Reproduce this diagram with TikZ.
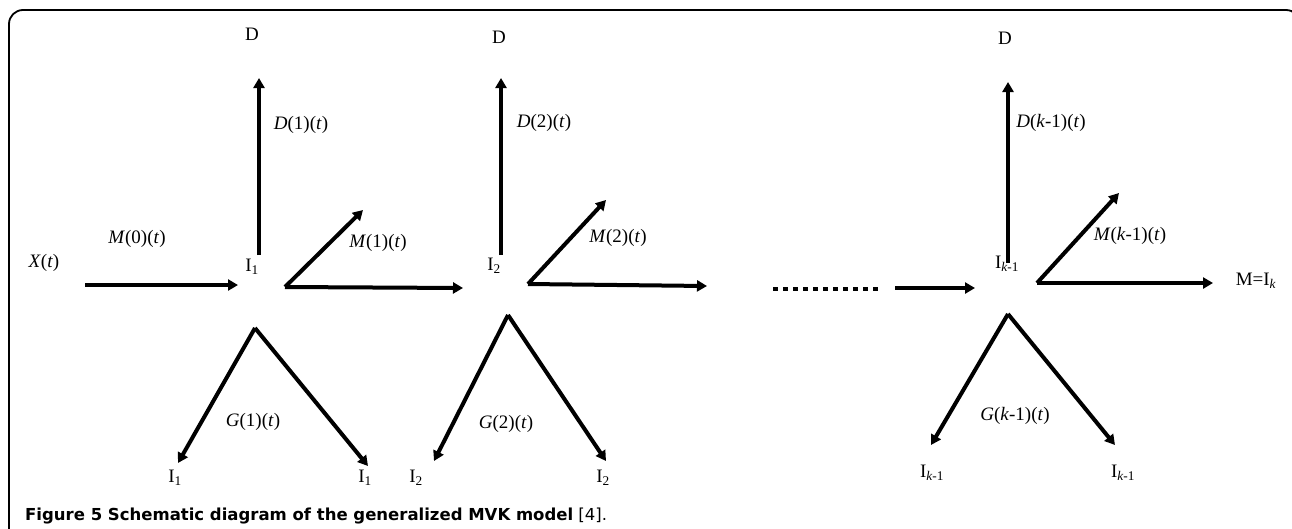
\documentclass[tikz,border=0pt]{standalone}
\usepackage{fontspec}
\setmainfont{Liberation Serif}
\newfontfamily\capfont{DejaVu Sans}
\usetikzlibrary{arrows.meta}
\tikzset{
  flow/.style={line width=4pt, -{Triangle[length=10pt,width=11pt]}},
  lbl/.style={font=\fontsize{19}{21}\selectfont, inner sep=0pt},
  frame/.style={line width=1.8pt, rounded corners=14pt},
}
\begin{document}
\begin{tikzpicture}[x=1pt,y=-1pt]
\useasboundingbox (0,0) rectangle (1292,528);
% page frame, open at the bottom
\draw[frame] (9,540) -- (9,10) -- (1300,10) -- (1300,540);

% ---- compartment 1 ----
\coordinate (x0)  at (85,285);
\coordinate (in1) at (238,285);
\coordinate (v1)  at (259,255);
\coordinate (d1)  at (259,78);
\coordinate (o1)  at (285,287);
\coordinate (m1)  at (363,210);
\coordinate (in2) at (463,288);
\coordinate (a1)  at (255,328);
\coordinate (gl1) at (178,463);
\coordinate (gr1) at (368,466);

\node[lbl] (Xt)  at (44,263)  {\textit{X}(\textit{t})};
\node[lbl] (M0)  at (137,239) {\textit{M}(0)(\textit{t})};
\node[lbl] (Dtop1) at (252,34) {D};
\node[lbl] (D1)  at (301,125) {\textit{D}(1)(\textit{t})};
\node[lbl] (I1)  at (252,267) {I\textsubscript{1}};
\node[lbl] (M1)  at (378,243) {\textit{M}(1)(\textit{t})};
\node[lbl] (G1)  at (253,422) {\textit{G}(1)(\textit{t})};
\node[lbl] (I1l) at (175,478) {I\textsubscript{1}};
\node[lbl] (I1r) at (365,478) {I\textsubscript{1}};

\draw[flow] (x0) -- (in1);
\draw[flow] (v1) -- (d1);
\draw[flow] (o1) -- (m1);
\draw[flow] (o1) -- (in2);
\draw[flow] (a1) -- (gl1);
\draw[flow] (a1) -- (gr1);

% ---- compartment 2 ----
\coordinate (v2)  at (501,255);
\coordinate (d2)  at (501,78);
\coordinate (o2)  at (528,284);
\coordinate (m2)  at (606,200);
\coordinate (h2)  at (707,286);
\coordinate (a2)  at (508,315);
\coordinate (gl2) at (434,461);
\coordinate (gr2) at (606,461);

\node[lbl] (Dtop2) at (499,37) {D};
\node[lbl] (D2)  at (544,123) {\textit{D}(2)(\textit{t})};
\node[lbl] (I2)  at (494,266) {I\textsubscript{2}};
\node[lbl] (M2)  at (618,238) {\textit{M}(2)(\textit{t})};
\node[lbl] (G2)  at (506,424) {\textit{G}(2)(\textit{t})};
\node[lbl] (I2l) at (416,478) {I\textsubscript{2}};
\node[lbl] (I2r) at (603,478) {I\textsubscript{2}};

\draw[flow] (v2) -- (d2);
\draw[flow] (o2) -- (m2);
\draw[flow] (o2) -- (h2);
\draw[flow] (a2) -- (gl2);
\draw[flow] (a2) -- (gr2);

% ---- intermediate stages left out ----
\coordinate (dotsA) at (773,289);
\coordinate (dotsB) at (878,289);
\draw[line width=4.5pt, dash pattern=on 5pt off 5pt] (dotsA) -- (dotsB);

% ---- compartment k-1 ----
\coordinate (ink0) at (895,288);
\coordinate (ink)  at (975,288);
\coordinate (vk)   at (1008,263);
\coordinate (dk)   at (1008,82);
\coordinate (ok)   at (1037,283);
\coordinate (mk)   at (1119,193);
\coordinate (hk)   at (1213,283);
\coordinate (ak)   at (1008,314);
\coordinate (glk)  at (931,445);
\coordinate (grk)  at (1115,445);

\node[lbl] (Dtopk) at (1005,38) {D};
\node[lbl] (Dk)  at (1051,123) {\textit{D}(\textit{k}-1)(\textit{t})};
\node[lbl] (Ik)  at (1007,264) {I\textsubscript{\textit{k}-1}};
\node[lbl] (Mk)  at (1130,236) {\textit{M}(\textit{k}-1)(\textit{t})};
\node[lbl] (MI)  at (1256,281) {M=I\textsubscript{\textit{k}}};
\node[lbl] (Gk)  at (1015,416) {\textit{G}(\textit{k}-1)(\textit{t})};
\node[lbl] (Ikl) at (932,473) {I\textsubscript{\textit{k}-1}};
\node[lbl] (Ikr) at (1123,473) {I\textsubscript{\textit{k}-1}};

\draw[flow] (ink0) -- (ink);
\draw[flow] (vk) -- (dk);
\draw[flow] (ok) -- (mk);
\draw[flow] (ok) -- (hk);
\draw[flow] (ak) -- (glk);
\draw[flow] (ak) -- (grk);

% ---- caption ----
\node[anchor=base west, inner sep=0pt, font=\capfont\fontsize{16.5}{19}\selectfont] (cap) at (25,520)
  {\textbf{Figure 5 Schematic diagram of the generalized MVK model} [4].};
\end{tikzpicture}
\end{document}
